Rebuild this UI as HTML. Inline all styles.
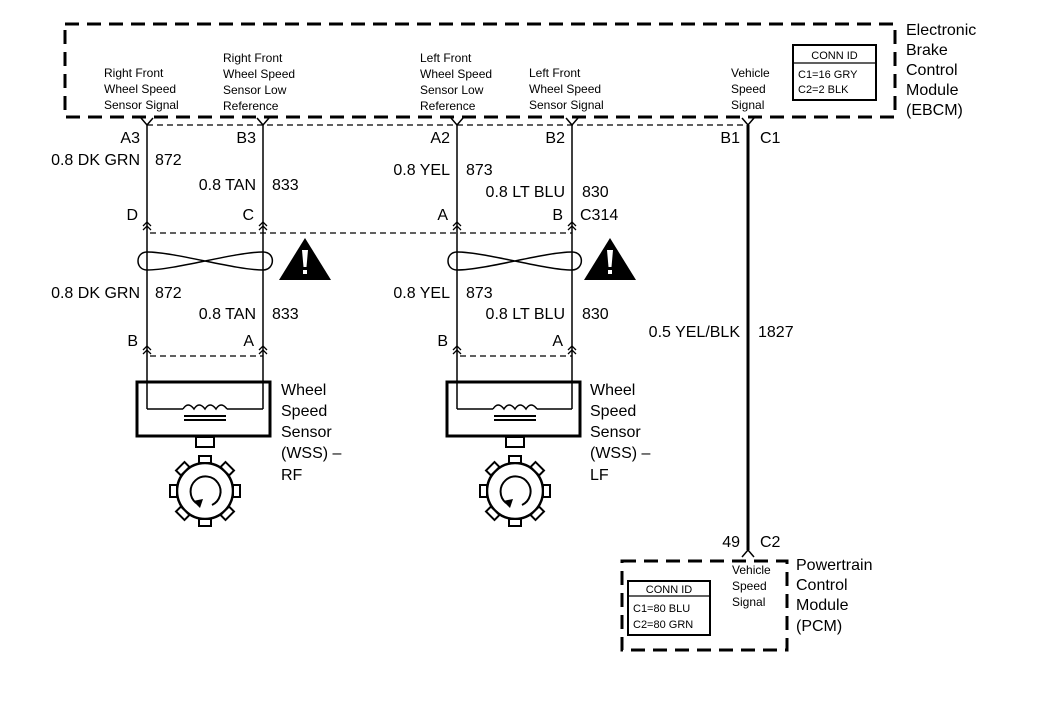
<!DOCTYPE html>
<html><head><meta charset="utf-8"><style>
html,body{margin:0;padding:0;background:#fff}
svg{display:block}
text{font-family:"Liberation Sans",Arial,sans-serif;fill:#000}
.l{font-size:16px}
.s{font-size:12px}
.c{font-size:11px}
</style></head><body>
<svg width="1056" height="704" viewBox="0 0 1056 704" xmlns="http://www.w3.org/2000/svg">
<defs>
<g id="chev" fill="none" stroke="#000" stroke-width="1.3">
<path d="M-4,-4 L0,-8 L4,-4 M-4,0 L0,-4 L4,0"/>
</g>
<g id="gear">
<circle cx="0" cy="0" r="28" fill="none" stroke="#000" stroke-width="2.5"/>
<g fill="#fff" stroke="#000" stroke-width="2">
<rect x="-6" y="-35" width="12" height="7"/>
<rect x="-6" y="-35" width="12" height="7" transform="rotate(45)"/>
<rect x="-6" y="-35" width="12" height="7" transform="rotate(90)"/>
<rect x="-6" y="-35" width="12" height="7" transform="rotate(135)"/>
<rect x="-6" y="-35" width="12" height="7" transform="rotate(180)"/>
<rect x="-6" y="-35" width="12" height="7" transform="rotate(225)"/>
<rect x="-6" y="-35" width="12" height="7" transform="rotate(270)"/>
<rect x="-6" y="-35" width="12" height="7" transform="rotate(315)"/>
</g>
<path d="M-9,12 A15,15 0 1 1 7,14" fill="none" stroke="#000" stroke-width="2"/>
<path d="M-12,10 L-2,8 L-5,17 Z" fill="#000"/>
</g>
<g id="warn">
<path d="M0,0 L26,42 L-26,42 Z" fill="#000"/>
<path d="M-3,12 L3,12 L1.5,29 L-1.5,29 Z" fill="#fff"/>
<rect x="-2" y="32" width="4" height="4" fill="#fff"/>
</g>
</defs>

<rect x="65" y="24" width="830" height="93" fill="none" stroke="#000" stroke-width="3" stroke-dasharray="14,8"/>
<line x1="147" y1="125" x2="744" y2="125" stroke="#000" stroke-width="1.3" stroke-dasharray="6,4"/>

<text class="s" x="104" y="77">Right Front</text>
<text class="s" x="104" y="93">Wheel Speed</text>
<text class="s" x="104" y="109">Sensor Signal</text>
<text class="s" x="223" y="62">Right Front</text>
<text class="s" x="223" y="78">Wheel Speed</text>
<text class="s" x="223" y="94">Sensor Low</text>
<text class="s" x="223" y="110">Reference</text>
<text class="s" x="420" y="62">Left Front</text>
<text class="s" x="420" y="78">Wheel Speed</text>
<text class="s" x="420" y="94">Sensor Low</text>
<text class="s" x="420" y="110">Reference</text>
<text class="s" x="529" y="77">Left Front</text>
<text class="s" x="529" y="93">Wheel Speed</text>
<text class="s" x="529" y="109">Sensor Signal</text>
<text class="s" x="731" y="77">Vehicle</text>
<text class="s" x="731" y="93">Speed</text>
<text class="s" x="731" y="109">Signal</text>

<rect x="793" y="45" width="83" height="55" fill="none" stroke="#000" stroke-width="2"/>
<line x1="793" y1="63" x2="876" y2="63" stroke="#000" stroke-width="1.3"/>
<text class="c" x="834.5" y="59" text-anchor="middle">CONN ID</text>
<text class="c" x="798" y="78">C1=16 GRY</text>
<text class="c" x="798" y="93">C2=2 BLK</text>

<text class="l" x="906" y="35">Electronic</text>
<text class="l" x="906" y="55">Brake</text>
<text class="l" x="906" y="75">Control</text>
<text class="l" x="906" y="95">Module</text>
<text class="l" x="906" y="115">(EBCM)</text>

<g stroke="#000" stroke-width="1.5" fill="none">
<line x1="147" y1="125" x2="147" y2="409"/>
<line x1="263" y1="125" x2="263" y2="409"/>
<line x1="457" y1="125" x2="457" y2="409"/>
<line x1="572" y1="125" x2="572" y2="409"/>
<path d="M141,118 L147,125 L153,118 M257,118 L263,125 L269,118 M451,118 L457,125 L463,118 M566,118 L572,125 L578,118 M742,118 L748,125 L754,118"/>
</g>
<line x1="748" y1="125" x2="748" y2="550" stroke="#000" stroke-width="3"/>
<path d="M742,557 L748,550 L754,557" stroke="#000" stroke-width="1.5" fill="none"/>

<text class="l" x="140" y="143" text-anchor="end">A3</text>
<text class="l" x="256" y="143" text-anchor="end">B3</text>
<text class="l" x="450" y="143" text-anchor="end">A2</text>
<text class="l" x="565" y="143" text-anchor="end">B2</text>
<text class="l" x="740" y="143" text-anchor="end">B1</text>
<text class="l" x="760" y="143">C1</text>

<text class="l" x="140" y="165" text-anchor="end">0.8 DK GRN</text>
<text class="l" x="155" y="165">872</text>
<text class="l" x="256" y="190" text-anchor="end">0.8 TAN</text>
<text class="l" x="272" y="190">833</text>
<text class="l" x="450" y="175" text-anchor="end">0.8 YEL</text>
<text class="l" x="466" y="175">873</text>
<text class="l" x="565" y="197" text-anchor="end">0.8 LT BLU</text>
<text class="l" x="582" y="197">830</text>

<text class="l" x="138" y="220" text-anchor="end">D</text>
<text class="l" x="254" y="220" text-anchor="end">C</text>
<text class="l" x="448" y="220" text-anchor="end">A</text>
<text class="l" x="563" y="220" text-anchor="end">B</text>
<text class="l" x="580" y="220">C314</text>

<use href="#chev" x="147" y="230"/>
<use href="#chev" x="263" y="230"/>
<use href="#chev" x="457" y="230"/>
<use href="#chev" x="572" y="230"/>
<line x1="150" y1="233" x2="572" y2="233" stroke="#000" stroke-width="1.3" stroke-dasharray="6,4"/>

<g fill="none" stroke="#000" stroke-width="1.5">
<path d="M147,252 C175,252 235,270 263,270 C275,270 276,252 263,252 C235,252 175,270 147,270 C135,270 135,252 147,252 Z"/>
<path d="M457,252 C485,252 545,270 572,270 C584,270 585,252 572,252 C545,252 485,270 457,270 C445,270 445,252 457,252 Z"/>
</g>
<use href="#warn" x="305" y="238"/>
<use href="#warn" x="610" y="238"/>

<text class="l" x="140" y="298" text-anchor="end">0.8 DK GRN</text>
<text class="l" x="155" y="298">872</text>
<text class="l" x="256" y="319" text-anchor="end">0.8 TAN</text>
<text class="l" x="272" y="319">833</text>
<text class="l" x="450" y="298" text-anchor="end">0.8 YEL</text>
<text class="l" x="466" y="298">873</text>
<text class="l" x="565" y="319" text-anchor="end">0.8 LT BLU</text>
<text class="l" x="582" y="319">830</text>
<text class="l" x="740" y="337" text-anchor="end">0.5 YEL/BLK</text>
<text class="l" x="758" y="337">1827</text>

<text class="l" x="138" y="346" text-anchor="end">B</text>
<text class="l" x="254" y="346" text-anchor="end">A</text>
<text class="l" x="448" y="346" text-anchor="end">B</text>
<text class="l" x="563" y="346" text-anchor="end">A</text>
<use href="#chev" x="147" y="354"/>
<use href="#chev" x="263" y="354"/>
<use href="#chev" x="457" y="354"/>
<use href="#chev" x="572" y="354"/>
<line x1="150" y1="356" x2="263" y2="356" stroke="#000" stroke-width="1.3" stroke-dasharray="6,4"/>
<line x1="460" y1="356" x2="572" y2="356" stroke="#000" stroke-width="1.3" stroke-dasharray="6,4"/>

<g fill="none" stroke="#000">
<rect x="137" y="382" width="133" height="54" stroke-width="3"/>
<path d="M147,409 L183,409 M227,409 L263,409" stroke-width="1.5"/>
<path d="M183,409 Q188,401 194,409 Q199,401 205,409 Q210,401 216,409 Q221,401 227,409" stroke-width="1.5"/>
<line x1="184" y1="416" x2="226" y2="416" stroke-width="2"/>
<line x1="184" y1="420" x2="226" y2="420" stroke-width="2"/>
<rect x="196" y="437" width="18" height="10" stroke-width="2"/>
</g>
<use href="#gear" x="205" y="491"/>
<g fill="none" stroke="#000">
<rect x="447" y="382" width="133" height="54" stroke-width="3"/>
<path d="M457,409 L493,409 M537,409 L572,409" stroke-width="1.5"/>
<path d="M493,409 Q498,401 504,409 Q509,401 515,409 Q520,401 526,409 Q531,401 537,409" stroke-width="1.5"/>
<line x1="494" y1="416" x2="536" y2="416" stroke-width="2"/>
<line x1="494" y1="420" x2="536" y2="420" stroke-width="2"/>
<rect x="506" y="437" width="18" height="10" stroke-width="2"/>
</g>
<use href="#gear" x="515" y="491"/>

<text class="l" x="281" y="395">Wheel</text>
<text class="l" x="281" y="416">Speed</text>
<text class="l" x="281" y="437">Sensor</text>
<text class="l" x="281" y="458">(WSS) –</text>
<text class="l" x="281" y="480">RF</text>
<text class="l" x="590" y="395">Wheel</text>
<text class="l" x="590" y="416">Speed</text>
<text class="l" x="590" y="437">Sensor</text>
<text class="l" x="590" y="458">(WSS) –</text>
<text class="l" x="590" y="480">LF</text>

<text class="l" x="740" y="547" text-anchor="end">49</text>
<text class="l" x="760" y="547">C2</text>
<rect x="622" y="561" width="165" height="89" fill="none" stroke="#000" stroke-width="3" stroke-dasharray="14,8"/>
<rect x="628" y="581" width="82" height="54" fill="none" stroke="#000" stroke-width="2"/>
<line x1="628" y1="596" x2="710" y2="596" stroke="#000" stroke-width="1.3"/>
<text class="c" x="669" y="593" text-anchor="middle">CONN ID</text>
<text class="c" x="633" y="612">C1=80 BLU</text>
<text class="c" x="633" y="628">C2=80 GRN</text>
<text class="s" x="732" y="574">Vehicle</text>
<text class="s" x="732" y="590">Speed</text>
<text class="s" x="732" y="606">Signal</text>
<text class="l" x="796" y="570">Powertrain</text>
<text class="l" x="796" y="590">Control</text>
<text class="l" x="796" y="610">Module</text>
<text class="l" x="796" y="631">(PCM)</text>
</svg>
</body></html>
